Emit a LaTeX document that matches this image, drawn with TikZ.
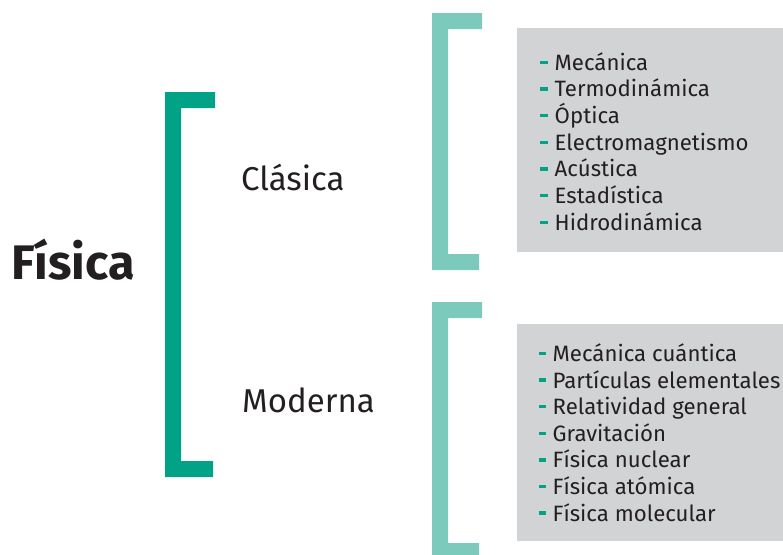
\documentclass[tikz,border=0pt]{standalone}
\usepackage{fontspec}
\setmainfont{Fira Sans}
\definecolor{darkgreen}{HTML}{00A386}
\definecolor{lightgreen}{HTML}{7CCABB}
\definecolor{boxgray}{HTML}{D1D3D4}
\definecolor{ink}{HTML}{231F20}
\tikzset{
  itemtext/.style={anchor=base west, inner sep=0pt, text=ink, font=\fontsize{22.2}{24}\selectfont},
  cattext/.style={anchor=base west, inner sep=0pt, text=ink, font=\fontsize{33}{36}\selectfont},
  titletext/.style={anchor=base west, inner sep=0pt, text=ink, font=\bfseries\fontsize{48.5}{52}\selectfont},
  dashmark/.style={fill=darkgreen, draw=none},
}
\begin{document}
\begin{tikzpicture}[x=1pt,y=-1pt]
\useasboundingbox (0,0) rectangle (783,554);
% brackets
\fill[darkgreen] (165,92) -- (215,92) -- (215,108) -- (181,108) -- (181,461) -- (213,461) -- (213,477) -- (165,477) -- cycle;
\fill[lightgreen] (432,13) -- (482,13) -- (482,29) -- (448,29) -- (448,254) -- (479,254) -- (479,270) -- (432,270) -- cycle;
\fill[lightgreen] (432,302) -- (482,302) -- (482,318) -- (448,318) -- (448,543) -- (479,543) -- (479,560) -- (432,560) -- cycle;
% gray boxes
\fill[boxgray] (517,28) rectangle (784,252);
\fill[boxgray] (517,324) rectangle (784,541);
% titles
\node[titletext] (fis) at (11,279.3) {Física};
\node[cattext] (cla) at (241,190) {Clásica};
\node[cattext] (mod) at (242,412.7) {Moderna};
% classical items
\foreach \t [count=\i] in {Mecánica,Termodinámica,Óptica,Electromagnetismo,Acústica,Estadística,Hidrodinámica}{
  \node[itemtext] (c\i) at (554.5,{70.3+26.67*(\i-1)}) {\t};
  \fill[dashmark] ([xshift=-14.5pt,yshift=6.3pt]c\i.base west) rectangle ([xshift=-6.5pt,yshift=9.8pt]c\i.base west);
}
% modern items
\foreach \t [count=\i] in {Mecánica cuántica,Partículas elementales,Relatividad general,Gravitación,Física nuclear,Física atómica,Física molecular}{
  \node[itemtext] (m\i) at (552.5,{361.5+26.6*(\i-1)}) {\t};
  \fill[dashmark] ([xshift=-14pt,yshift=6.3pt]m\i.base west) rectangle ([xshift=-6.5pt,yshift=9.8pt]m\i.base west);
}
\end{tikzpicture}
\end{document}
